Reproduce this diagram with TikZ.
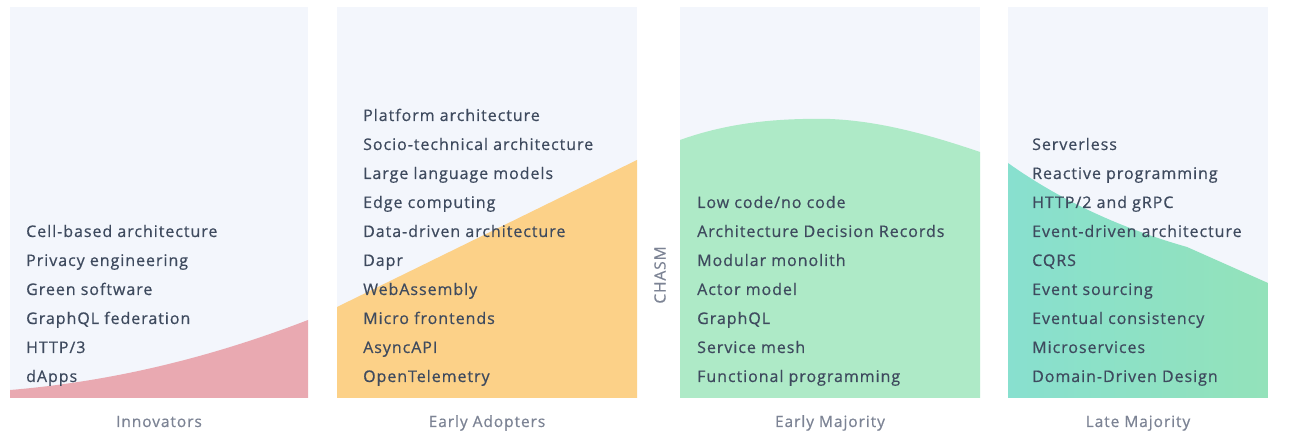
\documentclass[tikz,border=0pt]{standalone}
\usepackage{fontspec}
\setmainfont{Open Sans}[LetterSpace=6, FakeBold=0.6]
\usepackage{xcolor}
\usetikzlibrary{positioning}
\definecolor{panelbg}{HTML}{F3F6FC}
\definecolor{innov}{HTML}{E9A9B1}
\definecolor{early}{HTML}{FCD188}
\definecolor{major}{HTML}{AEEAC7}
\definecolor{lateL}{HTML}{88E0CF}
\definecolor{lateR}{HTML}{93E2BA}
\definecolor{itemtxt}{HTML}{3E4A5E}
\definecolor{cattxt}{HTML}{7C8394}

\begin{document}
\begin{tikzpicture}[x=1pt, y=-1pt,
  panel/.style={fill=panelbg, draw=none},
  item/.style={anchor=base west, inner sep=0pt, text=itemtxt,
               font=\fontsize{16}{18}\selectfont},
  cat/.style={anchor=base, inner sep=0pt, text=cattxt,
              font=\fontsize{15.5}{17}\selectfont}]
  \useasboundingbox (0,0) rectangle (1294,446);
  \fill[white] (0,0) rectangle (1294,446);
  % the four panels
  \fill[panel] (10,7)   rectangle (308,398);
  \fill[panel] (337,7)  rectangle (637,398);
  \fill[panel] (680,7)  rectangle (980,398);
  \fill[panel] (1008,7) rectangle (1268,398);
  % adoption curves
  \fill[innov] (10,390) .. controls (130,380) and (230,350) .. (308,320) -- (308,398) -- (10,398) -- cycle;
  \fill[early] (337,307) -- (637,160) -- (637,398) -- (337,398) -- cycle;
  \fill[major] (680,140) .. controls (730,122) and (780,118) .. (830,119)
    .. controls (880,121) and (930,135) .. (980,152) -- (980,398) -- (680,398) -- cycle;
  \shade[left color=lateL, right color=lateR] (1008,163) .. controls (1060,200) and (1120,228) .. (1187,247)
    -- (1268,283) -- (1268,398) -- (1008,398) -- cycle;
  % innovators
  \foreach \t [count=\i] in {dApps, HTTP/3, GraphQL federation, Green software,
      Privacy engineering, Cell-based architecture}
    \node[item] (inn\i) at (26,{382-29*(\i-1)}) {\t};
  % early adopters
  \foreach \t [count=\i] in {OpenTelemetry, AsyncAPI, Micro frontends, WebAssembly, Dapr,
      Data-driven architecture, Edge computing, Large language models,
      Socio-technical architecture, Platform architecture}
    \node[item] (ea\i) at (363,{382-29*(\i-1)}) {\t};
  % early majority
  \foreach \t [count=\i] in {Functional programming, Service mesh, GraphQL, Actor model,
      Modular monolith, Architecture Decision Records, Low code/no code}
    \node[item] (em\i) at (697,{382-29*(\i-1)}) {\t};
  % late majority
  \foreach \t [count=\i] in {Domain-Driven Design, Microservices, Eventual consistency,
      Event sourcing, CQRS, Event-driven architecture, HTTP/2 and gRPC,
      Reactive programming, Serverless}
    \node[item] (lm\i) at (1032,{382-29*(\i-1)}) {\t};
  % categories
  \node[cat] (innovators) at (159,427)  {Innovators};
  \node[cat] (adopters)   at (487,427)  {Early Adopters};
  \node[cat] (majority)   at (830,427)  {Early Majority};
  \node[cat] (late)       at (1138,427) {Late Majority};
  \node[cat, anchor=center, rotate=90] (chasm) at (660,275) {CHASM};
\end{tikzpicture}
\end{document}
